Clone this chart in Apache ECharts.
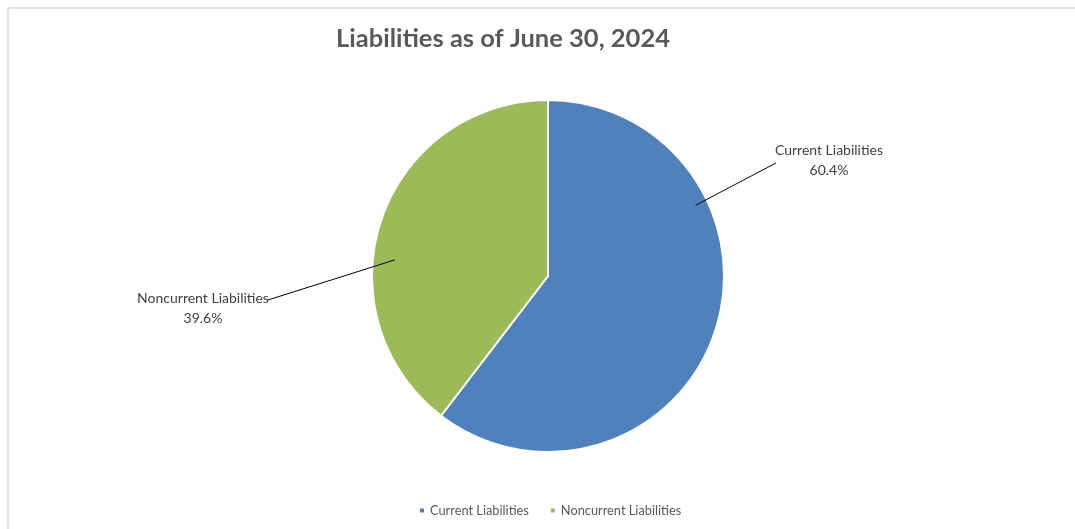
<!DOCTYPE html>
<html>
<head>
<meta charset="utf-8">
<title>Liabilities as of June 30, 2024</title>
<script src="https://cdn.jsdelivr.net/npm/echarts@6/dist/echarts.min.js"></script>
<style>
  html, body { margin: 0; padding: 0; background: #ffffff; overflow: hidden; }
  #frame { position: absolute; left: 7px; top: 7px; width: 1200px; height: 700px;
           border-left: 2px solid #e3e3e3; border-top: 2px solid #e3e3e3; }
  #chart { position: absolute; left: 0; top: 0; width: 1075px; height: 529px; }
</style>
</head>
<body>
<div id="frame"></div>
<div id="chart"></div>
<script>
// Chart data
const categories = ['Current Liabilities', 'Noncurrent Liabilities'];
const shares = [60.4, 39.6];
const sliceColors = ['#4F81BD', '#9BBB59'];
const chartTitle = 'Liabilities as of June 30, 2024';

// Pie geometry (pixels)
const CX = 548, CY = 276, R = 176;

// Where each data label sits and where its leader line touches the slice
// (anchor angle in degrees counter-clockwise from 3 o'clock, radius as a fraction of R)
const labelPlacement = [
  { x: 829, y: 160, anchorAngle: 25.6, anchorFrac: 0.93,  side: 'left',  endDY: 3 },
  { x: 203, y: 308, anchorAngle: 174,  anchorFrac: 0.875, side: 'right', endDY: -8 }
];

const FONT = 'Lato, "Noto Sans", sans-serif';

const chart = echarts.init(document.getElementById('chart'), null, { renderer: 'canvas' });

const sliceData = categories.map((name, i) => ({
  name: name,
  value: shares[i],
  itemStyle: { color: sliceColors[i] }
}));

// Same values again for a see-through layer above the slices that carries
// the data labels, so the leader lines stay visible where they cross a slice.
const labelData = categories.map((name, i) => ({ name: name, value: shares[i] }));

function placeLabel(params) {
  const pl = labelPlacement[params.dataIndex];
  const a = pl.anchorAngle * Math.PI / 180;
  const sx = CX + Math.cos(a) * R * pl.anchorFrac;
  const sy = CY - Math.sin(a) * R * pl.anchorFrac;
  const w = params.labelRect.width;
  const ex = pl.side === 'left' ? pl.x - w / 2 + 1 : pl.x + w / 2 - 1;
  const ey = pl.y + pl.endDY;
  return {
    x: pl.x,
    y: pl.y,
    align: 'center',
    verticalAlign: 'middle',
    labelLinePoints: [[sx, sy], [(sx + ex) / 2, (sy + ey) / 2], [ex, ey]]
  };
}

chart.setOption({
  animation: false,
  backgroundColor: 'transparent',
  title: {
    text: chartTitle,
    left: 498,
    top: 21,
    textAlign: 'center',
    textStyle: { fontFamily: FONT, fontWeight: 'bold', fontSize: 25.5, color: '#595959' }
  },
  legend: {
    data: categories,
    left: 413,
    top: 499,
    icon: 'rect',
    itemWidth: 6,
    itemHeight: 6,
    itemGap: 20,
    textStyle: { fontFamily: FONT, fontSize: 12.8, color: '#595959' }
  },
  series: [
    {
      type: 'pie',
      z: 2,
      center: [CX, CY],
      radius: R,
      startAngle: 90,
      clockwise: true,
      data: sliceData,
      itemStyle: { borderColor: '#ffffff', borderWidth: 2 },
      label: { show: false },
      labelLine: { show: false },
      emphasis: { disabled: true }
    },
    {
      type: 'pie',
      z: 3,
      silent: true,
      legendHoverLink: false,
      center: [CX, CY],
      radius: R,
      startAngle: 90,
      clockwise: true,
      data: labelData,
      itemStyle: { color: 'rgba(0,0,0,0)', borderWidth: 0 },
      label: {
        show: true,
        formatter: p => p.name + '\n' + p.value.toFixed(1) + '%',
        fontFamily: FONT,
        fontSize: 14,
        lineHeight: 20,
        color: '#404040',
        align: 'center'
      },
      labelLine: {
        show: true,
        lineStyle: { color: '#000000', width: 1 }
      },
      labelLayout: placeLabel,
      emphasis: { disabled: true }
    }
  ]
});
</script>
</body>
</html>
